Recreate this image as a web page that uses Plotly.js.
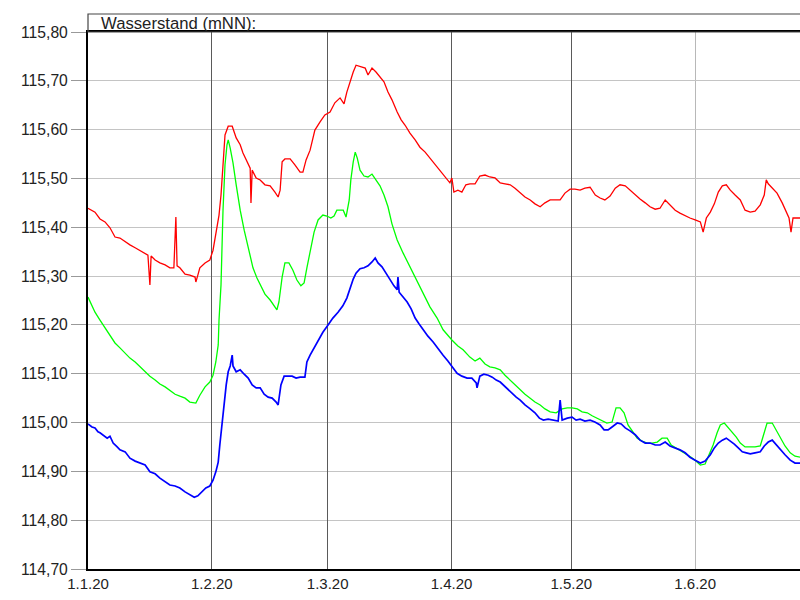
<!DOCTYPE html>
<html>
<head>
<meta charset="utf-8">
<script src="https://cdn.plot.ly/plotly-3.0.1.min.js"></script>
<style>html,body{margin:0;padding:0;background:#fff;}#chart{width:800px;height:600px;}</style>
</head>
<body>
<div id="chart"></div>
<script>
// Days since 1 Jan 2020 and water levels (m NN)
const redDays = [0,1.75,3,4.26,5.5,6.76,8,9.26,10.5,11.8,13,14.3,15,15.5,15.8,16.8,18,19.3,20.5,21.5,22,22.3,23,24.3,25.5,26.8,27,27.5,28,29.3,30.5,31.3,32,32.8,33.3,33.8,34.3,35.1,36.1,37.1,38.1,38.8,39.8,40.6,40.8,41.1,42.1,43.1,44.3,45.6,46.8,47.6,48.1,48.6,49.3,50.6,51.8,53.1,53.8,54.6,55.6,56.8,58.1,59.3,60.6,61.8,63.1,64.1,64.8,65.6,66.4,67.1,68.1,69.4,70.1,71.1,72.1,73.1,74.1,75.1,76.1,77.4,78.4,79.4,80.6,81.9,83.1,84.4,85.6,86.9,88.1,89.4,90.6,91.1,91.6,92.6,93.6,94.6,95.6,96.9,98.1,99.4,100.6,101.9,103.2,104.4,105.7,106.9,108.2,109.4,110.7,111.9,113.2,114.4,115.7,116.9,118.2,119.4,120.7,121.9,123.2,124.4,125.7,127,128.2,129.4,130.7,132,133.2,134.5,135.7,137,138.2,139.5,140.7,142,143.2,144.5,145.7,147,148.2,149.5,150.7,152,153.3,154,154.8,155.8,156.8,157.8,158.8,159.8,160.8,162,163.3,164.5,165.8,167,168.3,169.3,169.8,170.3,171.3,172.5,173.8,174.8,175.5,176,176.5,178.3];
const redLevels = [115.439,115.431,115.417,115.411,115.399,115.38,115.378,115.37,115.364,115.358,115.353,115.347,115.343,115.282,115.341,115.333,115.327,115.323,115.317,115.317,115.421,115.321,115.317,115.304,115.302,115.298,115.288,115.302,115.317,115.327,115.333,115.353,115.384,115.425,115.466,115.538,115.589,115.607,115.607,115.583,115.569,115.552,115.534,115.521,115.45,115.517,115.501,115.497,115.487,115.485,115.472,115.462,115.476,115.534,115.54,115.54,115.528,115.513,115.513,115.538,115.558,115.599,115.616,115.63,115.636,115.655,115.665,115.653,115.677,115.698,115.718,115.732,115.73,115.726,115.712,115.726,115.718,115.708,115.698,115.677,115.661,115.636,115.62,115.609,115.593,115.579,115.564,115.554,115.542,115.528,115.515,115.503,115.491,115.501,115.472,115.476,115.472,115.487,115.489,115.489,115.505,115.507,115.503,115.501,115.491,115.489,115.487,115.48,115.47,115.462,115.456,115.448,115.442,115.45,115.456,115.456,115.456,115.47,115.478,115.478,115.476,115.48,115.482,115.466,115.46,115.456,115.464,115.48,115.487,115.485,115.476,115.466,115.458,115.45,115.442,115.437,115.439,115.456,115.446,115.435,115.429,115.423,115.419,115.415,115.411,115.39,115.419,115.431,115.448,115.472,115.485,115.487,115.476,115.466,115.456,115.435,115.431,115.433,115.446,115.466,115.497,115.489,115.48,115.47,115.45,115.431,115.419,115.39,115.419,115.419];

const greenDays = [0,1.75,3,4.26,5.5,6.76,8,9.26,10.5,11.8,13,14.3,15.5,16.8,18,19.3,20.5,21.8,23,24.3,25.5,27,28,29.3,30.5,31.3,32,32.6,32.8,33.3,33.8,34.3,34.8,35.1,35.6,36.3,37.1,38.1,39.1,39.8,40.6,41.3,42.3,43.1,44.3,45.6,46.6,47.3,47.8,48.6,49.3,50.3,51.3,52.3,53.3,54.1,54.8,55.6,56.6,57.6,58.8,59.8,60.8,61.6,62.3,63.9,64.6,65.4,65.8,66.4,66.9,67.4,68.1,69.1,70.1,71.1,72.1,73.1,74.1,75.1,76.1,77.4,78.9,80.6,82.4,83.9,85.6,87.4,88.9,91.1,92.6,93.9,95.6,96.9,98.1,99.4,100.6,101.9,103.2,104.4,105.7,106.9,108.2,109.4,110.7,111.9,113.2,114.4,115.7,117.2,118.7,120,121.2,122.5,123.7,125,126.2,127.4,128.7,129.9,131.2,132.2,133.2,134.2,135.2,136.5,137.5,138.7,140,141.2,142.5,143.7,145,146,147.2,148.5,149.7,151,152.2,153.3,154.5,155.5,156.5,157.5,158.3,159.3,160.3,161.3,162.3,163.3,164.5,165.8,167,168.3,169.3,170,171.3,172.3,173.3,174.5,175.8,177,178.3];
const greenLevels = [115.257,115.226,115.21,115.194,115.177,115.163,115.153,115.142,115.132,115.124,115.114,115.104,115.095,115.087,115.079,115.073,115.065,115.058,115.054,115.05,115.042,115.04,115.056,115.073,115.083,115.097,115.124,115.159,115.21,115.282,115.435,115.528,115.569,115.579,115.562,115.532,115.487,115.435,115.394,115.368,115.343,115.317,115.296,115.282,115.263,115.251,115.239,115.231,115.247,115.298,115.327,115.327,115.312,115.292,115.28,115.286,115.317,115.347,115.39,115.415,115.425,115.423,115.419,115.423,115.435,115.435,115.421,115.456,115.497,115.534,115.554,115.542,115.517,115.505,115.503,115.509,115.497,115.485,115.466,115.442,115.407,115.374,115.347,115.319,115.292,115.265,115.237,115.214,115.19,115.169,115.157,115.149,115.134,115.126,115.132,115.12,115.114,115.112,115.108,115.097,115.087,115.077,115.067,115.058,115.05,115.042,115.036,115.028,115.022,115.02,115.028,115.03,115.03,115.028,115.022,115.02,115.014,115.009,115.003,114.999,115.001,115.03,115.03,115.02,114.995,114.979,114.968,114.962,114.958,114.958,114.96,114.968,114.968,114.954,114.948,114.942,114.936,114.929,114.921,114.913,114.915,114.934,114.954,114.979,114.995,114.999,114.989,114.981,114.97,114.958,114.95,114.95,114.95,114.952,114.981,114.999,114.999,114.985,114.97,114.952,114.938,114.931,114.929];

const blueDays = [0,1,1.75,2.5,3,4,4.8,5.5,6.3,7.3,8,9.3,10.5,11.8,13,14.3,15.5,16.8,18,19.3,20.5,21.8,23,24.3,25.5,26.6,27.5,28.6,29.5,30.5,31.3,32,32.6,33,33.6,34.1,34.6,35.1,35.6,36.1,36.3,37.1,38.1,39.1,40.1,41.1,42.1,43.1,44.1,45.1,46.1,47.1,47.6,48.3,49.1,50.1,51.1,52.1,53.1,54.3,54.8,55.6,56.6,57.6,58.8,60.1,61.3,62.6,63.8,64.8,65.6,66.4,67.1,68.1,69.1,70.1,71.1,71.9,72.6,73.6,74.6,75.6,76.6,77.4,77.6,77.9,78.9,79.9,80.9,81.9,82.9,83.9,85.1,86.4,87.6,88.9,90.1,91.1,92.4,93.6,94.9,96.1,97.2,97.4,98.1,99.1,100.2,101.2,102.2,103.2,104.2,105.2,106.2,107.2,108.2,109.4,110.7,111.9,113,114,115.2,116.5,117.7,118.2,118.7,120,121.2,122.2,123.2,124.4,125.7,126.9,128.2,129.2,130.2,131.2,132.5,133.5,134.5,135.7,137,138.2,139.5,140.7,142,143.2,144.5,145.7,147,148.2,149.5,150.7,152,153.3,154.5,155.8,156.8,157.8,158.8,159.8,160.8,161.8,162.8,163.8,164.8,165.8,167,168.3,169.3,170.3,171.3,172.3,173.3,174.5,175.8,177,178.3];
const blueLevels = [114.997,114.991,114.989,114.981,114.979,114.972,114.968,114.972,114.958,114.95,114.944,114.94,114.927,114.921,114.917,114.913,114.899,114.895,114.886,114.878,114.872,114.87,114.866,114.858,114.852,114.847,114.85,114.86,114.866,114.87,114.882,114.899,114.919,114.954,115.005,115.05,115.077,115.104,115.116,115.138,115.116,115.104,115.108,115.099,115.091,115.077,115.071,115.071,115.058,115.052,115.05,115.042,115.036,115.077,115.095,115.095,115.095,115.091,115.093,115.093,115.124,115.138,115.153,115.169,115.185,115.2,115.214,115.226,115.239,115.255,115.276,115.294,115.306,115.315,115.317,115.321,115.329,115.337,115.327,115.319,115.306,115.292,115.28,115.272,115.298,115.267,115.257,115.247,115.233,115.214,115.202,115.19,115.177,115.165,115.151,115.138,115.126,115.116,115.101,115.095,115.091,115.091,115.081,115.071,115.095,115.099,115.097,115.093,115.087,115.083,115.075,115.067,115.06,115.052,115.046,115.036,115.028,115.02,115.009,115.005,115.007,115.005,115.003,115.046,115.005,115.009,115.011,115.005,115.007,115.003,115.005,115.001,114.995,114.985,114.985,114.991,114.999,114.997,114.989,114.983,114.975,114.964,114.958,114.958,114.954,114.954,114.96,114.952,114.948,114.944,114.938,114.929,114.923,114.917,114.921,114.934,114.948,114.958,114.964,114.968,114.962,114.956,114.948,114.94,114.938,114.936,114.938,114.94,114.952,114.96,114.964,114.954,114.944,114.934,114.923,114.917,114.917];

const darkGridMonths = ['2020-02-01', '2020-03-01', '2020-04-01', '2020-05-01'];
const tickLabelYear = 2020;
const titleText = 'Wasserstand (mNN):';

function dayToDate(d) {
  const t = new Date(Date.UTC(tickLabelYear, 0, 1) + d * 86400000);
  const p = n => String(n).padStart(2, '0');
  return t.getUTCFullYear() + '-' + p(t.getUTCMonth() + 1) + '-' + p(t.getUTCDate()) + ' ' +
         p(t.getUTCHours()) + ':' + p(t.getUTCMinutes()) + ':' + p(t.getUTCSeconds());
}

const font = 'Liberation Sans, Arial, sans-serif';
const xRange = [dayToDate(0), dayToDate(178.25)];
const traces = [
  {x: [], y: [], xaxis: 'x2', yaxis: 'y', mode: 'lines', hoverinfo: 'skip', showlegend: false},
  {x: redDays.map(dayToDate), y: redLevels, mode: 'lines', line: {color: '#ff0000', width: 1.3}, hoverinfo: 'skip'},
  {x: greenDays.map(dayToDate), y: greenLevels, mode: 'lines', line: {color: '#00ff00', width: 1.3}, hoverinfo: 'skip'},
  {x: blueDays.map(dayToDate), y: blueLevels, mode: 'lines', line: {color: '#0000ff', width: 1.7}, hoverinfo: 'skip'}
];

const layout = {
  width: 800, height: 600,
  margin: {l: 88, r: 0, t: 32, b: 31, pad: 0},
  paper_bgcolor: '#ffffff', plot_bgcolor: '#ffffff',
  showlegend: false,
  separators: ',.',
  font: {family: font, size: 15, color: '#222'},
  xaxis: {
    type: 'date',
    range: xRange,
    tick0: '2020-01-01', dtick: 'M1',
    tickformat: '%-d.%-m.%y',
    showgrid: true, gridcolor: '#b8b8b8', gridwidth: 1,
    showline: true, linecolor: '#000', linewidth: 2, mirror: true,
    ticks: '', zeroline: false,
    tickfont: {family: font, size: 15, color: '#222'}
  },
  xaxis2: {
    type: 'date', overlaying: 'x', side: 'top',
    range: xRange,
    tickmode: 'array', tickvals: darkGridMonths,
    showticklabels: false, ticks: '',
    showgrid: true, gridcolor: '#5a5a5a', gridwidth: 1,
    showline: false, zeroline: false
  },
  yaxis: {
    range: [114.70, 115.80],
    tick0: 114.7, dtick: 0.1, tickformat: '.2f',
    showgrid: true, gridcolor: '#c4c4c4', gridwidth: 1,
    showline: true, linecolor: '#000', linewidth: 2,
    ticks: 'outside', ticklen: 15, tickcolor: '#999', tickwidth: 1,
    zeroline: false,
    tickfont: {family: font, size: 15.7, color: '#222'}
  },
  shapes: [
    {type: 'rect', xref: 'paper', yref: 'paper', x0: 0, x1: 1.05, y0: 1, y1: 1 + 18 / 537,
     line: {color: '#444', width: 1.2}, fillcolor: 'rgba(0,0,0,0)', layer: 'above'}
  ],
  annotations: [
    {xref: 'paper', yref: 'paper', x: 11 / 712, y: 1 + 9 / 537, xanchor: 'left', yanchor: 'middle',
     text: titleText, showarrow: false, font: {family: font, size: 16.7, color: '#222'}}
  ]
};

Plotly.newPlot('chart', traces, layout, {staticPlot: true, displayModeBar: false});
</script>
</body>
</html>
